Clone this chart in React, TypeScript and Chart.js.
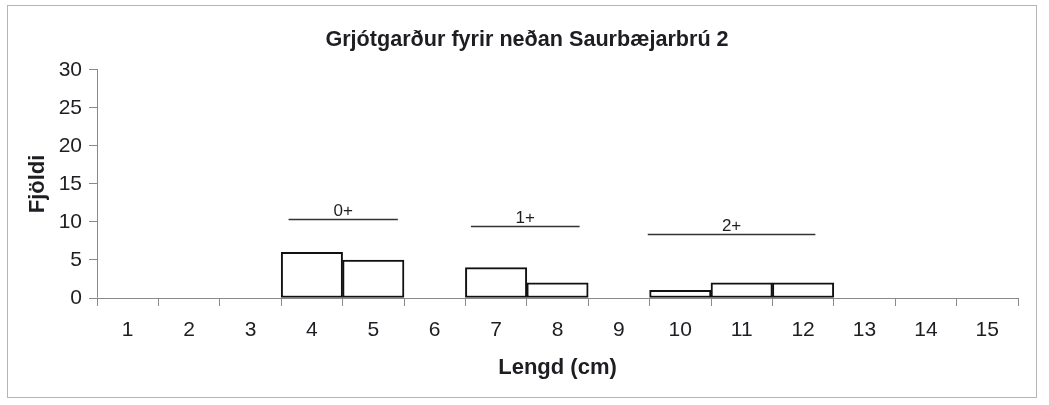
import React, { useEffect, useRef } from "react";
import { Chart, registerables } from "chart.js";

Chart.register(...registerables);

const chartTitle = "Grjótgarður fyrir neðan Saurbæjarbrú 2";
const xTitle = "Lengd (cm)";
const yTitle = "Fjöldi";
const lengthLabels = ["1", "2", "3", "4", "5", "6", "7", "8", "9", "10", "11", "12", "13", "14", "15"];
const counts = [0, 0, 0, 6, 5, 0, 4, 2, 0, 1, 2, 2, 0, 0, 0];
const yTicks = [0, 5, 10, 15, 20, 25, 30];

// Age-group marker lines (x in cm, y in Fjöldi units)
const ageGroups = ["0+", "1+", "2+"];
const ageFrom = [3.62, 6.59, 9.47];
const ageTo = [5.4, 8.36, 12.2];
const ageLevel = [10.4, 9.5, 8.4];

const FONT = "'Liberation Sans', Arial, sans-serif";
const TEXT = "#1e1e22";
const AXIS = "#8a8a8a";

const ageLinesPlugin = {
  id: "ageLines",
  afterDatasetsDraw(chart: any) {
    const { ctx, scales } = chart;
    const xs = scales.x;
    const ys = scales.y;
    ctx.save();
    ageGroups.forEach((label, i) => {
      const x1 = xs.getPixelForValue(ageFrom[i] - 1);
      const x2 = xs.getPixelForValue(ageTo[i] - 1);
      const y = Math.round(ys.getPixelForValue(ageLevel[i])) + 0.5;
      ctx.strokeStyle = "#333";
      ctx.lineWidth = 1.3;
      ctx.beginPath();
      ctx.moveTo(x1, y);
      ctx.lineTo(x2, y);
      ctx.stroke();
      ctx.fillStyle = TEXT;
      ctx.font = `17px ${FONT}`;
      ctx.textAlign = "center";
      ctx.textBaseline = "bottom";
      ctx.fillText(label, (x1 + x2) / 2, y);
    });
    ctx.restore();
  },
};

export default function App() {
  const canvasRef = useRef<HTMLCanvasElement>(null);

  useEffect(() => {
    const canvas = canvasRef.current;
    if (!canvas) return;
    const chart = new Chart(canvas, {
      type: "bar",
      data: {
        labels: lengthLabels,
        datasets: [
          {
            data: counts,
            backgroundColor: "#ffffff",
            borderColor: "#111",
            borderWidth: (c: any) => (c.raw > 0 ? 2 : 0),
            borderSkipped: false,
            barPercentage: 1,
            categoryPercentage: 1,
          },
        ],
      },
      options: {
        responsive: false,
        animation: false,
        layout: { padding: { left: 36, right: 31, top: 0, bottom: 24 } },
        plugins: {
          legend: { display: false },
          tooltip: { enabled: false },
          title: {
            display: true,
            text: chartTitle,
            color: TEXT,
            font: { family: FONT, size: 21.6, weight: "bold" },
            padding: { top: 27, bottom: 17 },
          },
        },
        scales: {
          x: {
            type: "category",
            offset: true,
            grid: {
              display: true,
              drawOnChartArea: false,
              drawTicks: true,
              tickLength: 8,
              offset: true,
              color: AXIS,
            },
            border: { display: true, color: AXIS, width: 1 },
            ticks: { color: TEXT, font: { family: FONT, size: 21 }, padding: 12 },
            title: {
              display: true,
              text: xTitle,
              color: TEXT,
              font: { family: FONT, size: 22, weight: "bold" },
              padding: { top: 8, bottom: 0 },
            },
            afterFit: (s: any) => {
              s.height = 83;
            },
          },
          y: {
            min: 0,
            max: 30,
            afterBuildTicks: (s: any) => {
              s.ticks = yTicks.map((v) => ({ value: v }));
            },
            grid: {
              display: true,
              drawOnChartArea: false,
              drawTicks: true,
              tickLength: 8,
              color: AXIS,
            },
            border: { display: true, color: AXIS, width: 1 },
            ticks: { color: TEXT, font: { family: FONT, size: 21 }, padding: 7 },
            title: {
              display: true,
              text: yTitle,
              color: TEXT,
              font: { family: FONT, size: 22, weight: "bold" },
              padding: { top: -11, bottom: 0 },
            },
            afterFit: (s: any) => {
              s.width = 61;
            },
          },
        },
      },
      plugins: [ageLinesPlugin],
    });
    return () => chart.destroy();
  }, []);

  return (
    <div style={{ position: "fixed", left: 0, top: 0, width: 1049, height: 405, background: "#fff" }}>
      <div
        style={{
          position: "absolute",
          left: 7,
          top: 5,
          width: 1030,
          height: 393,
          border: "1px solid #b5b5b5",
          boxSizing: "border-box",
        }}
      />
      <canvas
        ref={canvasRef}
        width={1049}
        height={405}
        style={{ position: "absolute", left: 0, top: 0, width: 1049, height: 405 }}
      />
    </div>
  );
}
